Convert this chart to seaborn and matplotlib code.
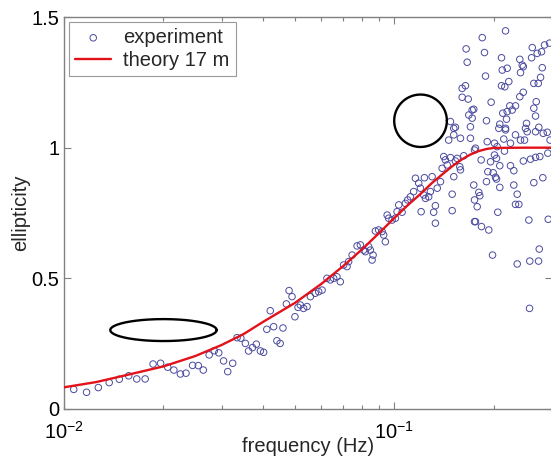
import numpy as np
import pandas as pd
import seaborn as sns
import matplotlib.pyplot as plt

freq = [0.0107, 0.0117, 0.0127, 0.0137, 0.0147, 0.0157, 0.0166, 0.0176, 0.0186, 0.0196,
        0.0206, 0.0215, 0.0225, 0.0234, 0.0245, 0.0255, 0.0264, 0.0275, 0.0285, 0.0294,
        0.0304, 0.0313, 0.0324, 0.0334, 0.0343, 0.0354, 0.0362, 0.0372, 0.0382, 0.0393,
        0.0402, 0.0411, 0.0421, 0.0431, 0.0441, 0.0451, 0.0460, 0.0471, 0.0500, 0.0511,
        0.0480, 0.0490, 0.0519, 0.0531, 0.0544, 0.0557, 0.0576, 0.0590, 0.0604, 0.0625,
        0.0640, 0.0655, 0.0670, 0.0686, 0.0702, 0.0719, 0.0727, 0.0745, 0.0771, 0.0789,
        0.0807, 0.0817, 0.0836, 0.0846, 0.0862, 0.0856, 0.0876, 0.0896, 0.0918, 0.0928,
        0.0939, 0.0951, 0.0961, 0.0984, 0.1007, 0.1019, 0.1031,
        0.1055, 0.1080, 0.1097, 0.1118, 0.1144, 0.1158, 0.1185, 0.1199, 0.1227, 0.1242,
        0.1270, 0.1285, 0.1301, 0.1233, 0.1348, 0.1379, 0.1395, 0.1411, 0.1427, 0.1445,
        0.1478, 0.1513, 0.1530, 0.1549, 0.1578, 0.1585, 0.1622, 0.1496, 0.1331, 0.1315,
        0.1205, 0.1496, 0.1331, 0.1748, 0.1739, 0.1748, 0.1748, 0.1460, 0.1513, 0.1585,
        0.1699, 0.1699, 0.1513,
        0.1649, 0.1661, 0.1604, 0.1641, 0.1604, 0.1673, 0.1739, 0.1680, 0.1720, 0.1478,
        0.1530,
        0.2170, 0.1845, 0.1874, 0.2110, 0.2615, 0.2848, 0.2950, 0.2789, 0.2706, 0.2602,
        0.2397, 0.2438, 0.2457, 0.2121, 0.2195, 0.2409, 0.2803, 0.1887, 0.2770, 0.2643,
        0.2726, 0.2220, 0.2110, 0.2159, 0.2455, 0.2397, 0.2688, 0.1963, 0.2236, 0.2326,
        0.2273, 0.2195, 0.2129, 0.2643, 0.2675, 0.1900, 0.2185, 0.2085, 0.2512, 0.2170,
        0.2737,
        0.1760, 0.1910, 0.2009, 0.2071, 0.2170, 0.2144, 0.2246, 0.2326, 0.2409, 0.2477,
        0.2524, 0.2675, 0.2822, 0.2902, 0.2960, 0.2494, 0.1831, 0.1954, 0.2009, 0.2038,
        0.2154, 0.2457, 0.2583, 0.2675, 0.2756, 0.2914, 0.1918, 0.1991, 0.2085, 0.2246,
        0.2299, 0.2024, 0.2038, 0.2299, 0.2085, 0.2643, 0.2814, 0.1801, 0.1814, 0.2354,
        0.2326, 0.2381, 0.1781, 0.2056, 0.1760, 0.1835, 0.1931, 0.2553, 0.2923,
        0.1982, 0.2745, 0.2354, 0.2570, 0.2732, 0.2565, 0.2047, 0.1900, 0.1720]

ellip = [0.075, 0.064, 0.082, 0.101, 0.114, 0.127, 0.115, 0.115, 0.172, 0.175,
         0.160, 0.149, 0.134, 0.137, 0.167, 0.166, 0.149, 0.207, 0.223, 0.215,
         0.184, 0.143, 0.175, 0.273, 0.271, 0.251, 0.222, 0.235, 0.248, 0.222,
         0.217, 0.305, 0.376, 0.315, 0.261, 0.251, 0.310, 0.402, 0.353, 0.389,
         0.453, 0.430, 0.398, 0.385, 0.392, 0.430, 0.443, 0.449, 0.455, 0.500,
         0.494, 0.500, 0.506, 0.487, 0.551, 0.545, 0.564, 0.589, 0.624, 0.628,
         0.608, 0.602, 0.621, 0.608, 0.589, 0.570, 0.681, 0.685, 0.679, 0.666,
         0.640, 0.742, 0.730, 0.723, 0.730, 0.755, 0.781,
         0.753, 0.787, 0.800, 0.812, 0.832, 0.883, 0.864, 0.845, 0.819, 0.806,
         0.812, 0.832, 0.889, 0.885, 0.845, 0.870, 0.921, 0.966, 0.953, 0.934,
         0.962, 0.889, 0.949, 0.959, 0.927, 0.915, 0.969, 0.822, 0.778, 0.753,
         0.755, 0.759, 0.711, 0.991, 0.857, 0.800, 0.717, 1.029, 1.074, 1.036,
         1.080, 1.036, 1.049,
         1.378, 1.327, 1.227, 1.237, 1.193, 1.186, 1.147, 1.125, 1.113, 1.100,
         1.078,
         1.447, 1.421, 1.364, 1.344, 1.383, 1.393, 1.400, 1.367, 1.361, 1.344,
         1.338, 1.316, 1.310, 1.297, 1.304, 1.287, 1.306, 1.274, 1.269, 1.246,
         1.246, 1.253, 1.237, 1.233, 1.212, 1.195, 1.176, 1.174, 1.160, 1.160,
         1.144, 1.138, 1.132, 1.151, 1.121, 1.103, 1.109, 1.090, 1.093, 1.074,
         1.078,
         0.998, 1.023, 1.017, 1.074, 1.068, 1.033, 1.017, 1.049, 1.029, 1.029,
         1.061, 1.061, 1.055, 1.059, 1.029, 1.074, 0.953, 0.946, 0.972, 0.959,
         0.987, 0.949, 0.956, 0.963, 0.966, 0.979, 0.908, 0.904, 0.931, 0.931,
         0.912, 0.887, 0.880, 0.857, 0.848, 0.866, 0.885, 0.829, 0.816, 0.822,
         0.783, 0.783, 0.774, 0.753, 0.717, 0.698, 0.685, 0.723, 0.726,
         0.589, 0.612, 0.555, 0.566, 0.566, 0.385, 1.004, 0.870, 1.144]

# theoretical curve for 17 m
theory_freq = [0.010, 0.0125, 0.015, 0.020, 0.025, 0.030, 0.035, 0.040, 0.050, 0.060,
               0.070, 0.080, 0.090, 0.100, 0.110, 0.120, 0.130, 0.140, 0.150, 0.160,
               0.170, 0.180, 0.190, 0.200, 0.250, 0.300]
theory_ell = [0.083, 0.103, 0.126, 0.163, 0.203, 0.245, 0.287, 0.333, 0.406, 0.478,
              0.547, 0.612, 0.674, 0.731, 0.781, 0.823, 0.865, 0.899, 0.930, 0.955,
              0.974, 0.987, 0.995, 0.999, 1.000, 1.000]

y_ticks = [0, 0.5, 1, 1.5]
y_tick_labels = ['0', '0.5', '1', '1.5']

# particle motion sketches: (centre freq, centre ellipticity, half width in decades, half height)
flat_ellipse = (0.02, 0.302, 0.161, 0.042)
round_circle = (0.12, 1.103, 0.0797, 0.1003)

sns.set_theme(style='ticks')
plt.rcParams['font.family'] = ['Liberation Sans', 'DejaVu Sans']
plt.rcParams['mathtext.default'] = 'regular'

fig = plt.figure(figsize=(5.51, 4.61), dpi=100)
ax = fig.add_axes([0.1162, 0.1128, 0.8856, 0.8503])

exp_df = pd.DataFrame({'frequency': freq, 'ellipticity': ellip})
th_df = pd.DataFrame({'frequency': theory_freq, 'ellipticity': theory_ell})

sns.scatterplot(data=exp_df, x='frequency', y='ellipticity', marker='o', s=22,
                facecolors='none', edgecolor='#4a4a9e', linewidth=0.7,
                label='experiment', ax=ax, zorder=2)
sns.lineplot(data=th_df, x='frequency', y='ellipticity', color='#e3121a', lw=1.7,
             label='theory 17 m', ax=ax, zorder=3)

t = np.linspace(0, 2 * np.pi, 200)
for cx, cy, hw, hh in [flat_ellipse, round_circle]:
    ax.plot(10 ** (np.log10(cx) + hw * np.cos(t)), cy + hh * np.sin(t),
            color='black', lw=1.7, zorder=4)

ax.set_xscale('log')
ax.set_xlim(0.01, 0.3)
ax.set_ylim(0, 1.5)
ax.set_yticks(y_ticks)
ax.set_yticklabels(y_tick_labels)

ax.tick_params(which='both', direction='in', top=True, right=True,
               color='#808080', labelcolor='black', labelsize=14.5)
ax.tick_params(which='major', length=5, width=0.8)
ax.tick_params(which='minor', length=3, width=0.8)
ax.tick_params(axis='x', which='major', pad=8.5)
for sp in ax.spines.values():
    sp.set_color('#808080')
    sp.set_linewidth(1.0)

ax.set_xlabel('frequency (Hz)', fontsize=14.5, labelpad=-4)
ax.set_ylabel('ellipticity', fontsize=14.5, labelpad=0.5)

leg = ax.legend(loc='upper left', fontsize=14.5, frameon=True, fancybox=False,
                borderaxespad=0.25, handlelength=1.8, borderpad=0.3,
                labelspacing=0.2, handletextpad=0.6)
leg.get_frame().set_edgecolor('#808080')
leg.get_frame().set_linewidth(0.8)

fig.savefig('out.png', dpi=100)
